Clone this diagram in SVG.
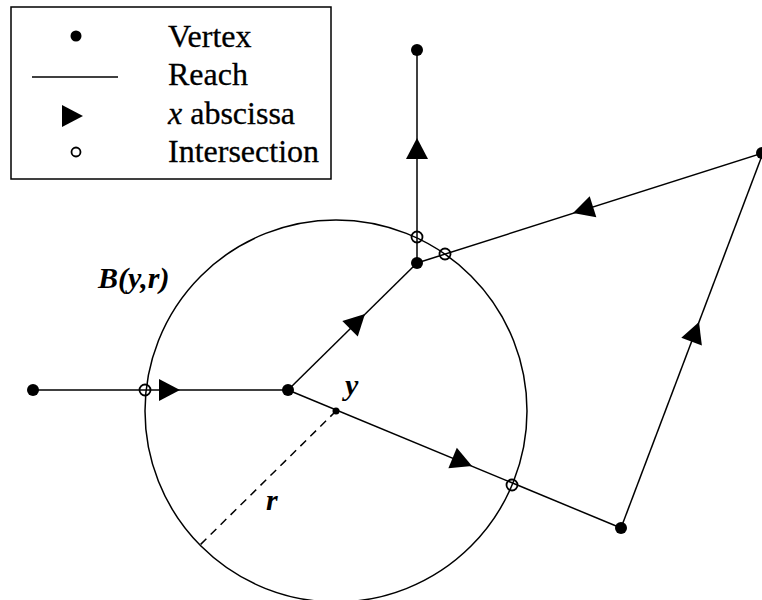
<svg xmlns="http://www.w3.org/2000/svg" width="762" height="600" viewBox="0 0 762 600">
<style>
.ln{stroke:#000;stroke-width:1.5;fill:none}
.v{fill:#000}
.ic{fill:none;stroke:#000;stroke-width:1.8}
.t{font-family:"Liberation Serif","Times New Roman",serif;font-size:32px;fill:#000;stroke:#000;stroke-width:0.3}
.it{font-family:"Liberation Serif","Times New Roman",serif;font-size:30px;font-style:italic;font-weight:bold;fill:#000}
</style>
<defs>
<path id="arr" d="M0,0 L-21,-11 L-21,11 Z" fill="#000"/>
</defs>
<rect width="762" height="600" fill="#fff"/>
<g id="legend">
<rect x="11" y="7" width="320" height="172" fill="#fff" stroke="#000" stroke-width="1.5"/>
<circle cx="76" cy="36" r="5.5" class="v"/>
<line x1="32" y1="77" x2="118" y2="77" class="ln"/>
<use href="#arr" transform="translate(83,116)"/>
<circle cx="76" cy="152" r="4.5" class="ic"/>
<text x="168" y="47" class="t">Vertex</text>
<text x="168" y="85" class="t">Reach</text>
<text x="168" y="124" class="t"><tspan font-style="italic">x</tspan> abscissa</text>
<text x="168" y="162" class="t">Intersection</text>
</g>
<g id="ball">
<circle cx="336" cy="411" r="191" class="ln"/>
<line x1="336" y1="411" x2="200" y2="545" class="ln" stroke-dasharray="8,6"/>
<text x="98" y="288" class="it">B(y,r)</text>
<text x="345" y="395" class="it">y</text>
<text x="266" y="510" class="it">r</text>
</g>
<g id="connectors">
<line x1="33" y1="390" x2="288" y2="390" class="ln"/>
<line x1="288" y1="390" x2="417" y2="263" class="ln"/>
<line x1="417" y1="263" x2="417" y2="50" class="ln"/>
<line x1="417" y1="263" x2="763" y2="153" class="ln"/>
<line x1="288" y1="390" x2="621" y2="528" class="ln"/>
<line x1="621" y1="528" x2="763" y2="153" class="ln"/>
<use href="#arr" transform="translate(180,390)"/>
<use href="#arr" transform="translate(365,314) rotate(-44.55)"/>
<use href="#arr" transform="translate(417,138) rotate(-90)"/>
<use href="#arr" transform="translate(573,213) rotate(162.4)"/>
<use href="#arr" transform="translate(472,466) rotate(22.5)"/>
<use href="#arr" transform="translate(699,322) rotate(-69.3)"/>
</g>
<g id="vertices">
<circle id="v1" cx="33" cy="390" r="6" class="v"/>
<circle id="v2" cx="288" cy="390" r="6" class="v"/>
<circle id="v3" cx="417" cy="263" r="6" class="v"/>
<circle id="v4" cx="417" cy="50" r="6" class="v"/>
<circle id="v5" cx="762" cy="153" r="6" class="v"/>
<circle id="v6" cx="621" cy="528" r="6" class="v"/>
<circle id="yp" cx="336" cy="411" r="3.5" class="v"/>
</g>
<g id="intersections">
<circle cx="145" cy="390" r="5.5" class="ic"/>
<circle cx="417" cy="237" r="5.5" class="ic"/>
<circle cx="445" cy="254" r="5.5" class="ic"/>
<circle cx="512" cy="485" r="5.5" class="ic"/>
</g>
</svg>
